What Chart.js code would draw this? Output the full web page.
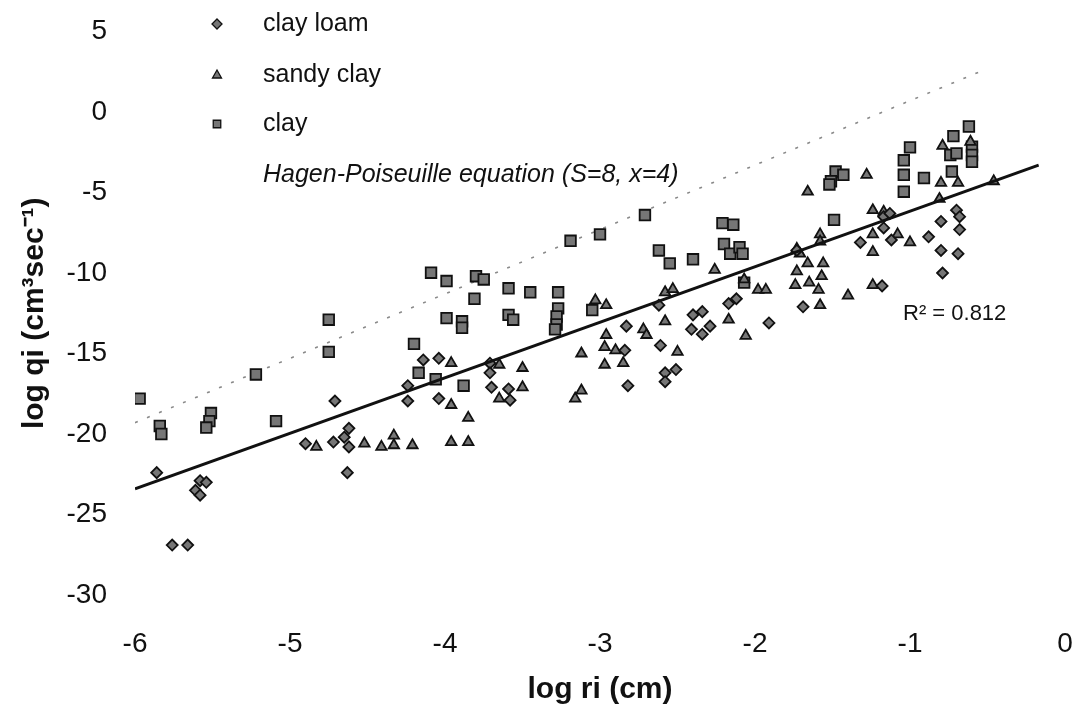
<!DOCTYPE html>
<html>
<head>
<meta charset="utf-8">
<title>log qi vs log ri</title>
<script src="https://cdn.jsdelivr.net/npm/chart.js@4.4.1/dist/chart.umd.min.js"></script>
<style>
    html, body { margin: 0; padding: 0; background: #fff; overflow: hidden; }
    #wrap { position: relative; width: 1075px; height: 719px; }
    #wrap canvas { display: block; }
</style>
</head>
<body>
<div id="wrap"><canvas id="poreFlowChart"></canvas></div>
<script>
// Axis ticks
const xTicks = [-6, -5, -4, -3, -2, -1, 0];
const yTicks = [5, 0, -5, -10, -15, -20, -25, -30];

// clay loam (diamonds)
const clayLoamX = [-5.86, -5.76, -5.66, -5.58, -5.54, -5.61, -5.58, -4.90, -4.71, -4.62, -4.72, -4.65, -4.62, -4.63,
    -4.24, -4.24, -4.14, -4.04, -4.04, -3.71, -3.71, -3.70, -3.59, -3.58, -2.84, -2.83, -2.82, -2.62, -2.61, -2.58,
    -2.58, -2.51, -2.40, -2.34, -2.41, -2.34, -2.29, -2.17, -2.12, -1.91, -1.69, -1.73, -1.32, -1.18, -1.17, -1.13,
    -1.17, -1.12, -0.88, -0.80, -0.80, -0.79, -0.70, -0.68, -0.68, -0.69];
const clayLoamY = [-22.4, -26.9, -26.9, -22.9, -23.0, -23.5, -23.8, -20.6, -17.95, -19.65, -20.5, -20.2, -20.8, -22.4,
    -17.0, -17.95, -15.4, -15.3, -17.8, -15.6, -16.2, -17.1, -17.2, -17.9, -14.8, -13.3, -17.0, -12.0, -14.5, -16.2,
    -16.75, -16.0, -12.6, -12.4, -13.5, -13.8, -13.3, -11.9, -11.6, -13.1, -12.1, -8.6, -8.1, -10.8, -6.5, -6.3,
    -7.2, -7.95, -7.75, -6.8, -8.6, -10.0, -6.1, -6.5, -7.3, -8.8];

// sandy clay (triangles)
const sandyClayX = [-4.83, -4.52, -4.41, -4.33, -4.33, -4.21, -3.96, -3.85, -3.96, -3.96, -3.85, -3.65, -3.50, -3.50,
    -3.65, -3.16, -3.12, -3.12, -3.03, -2.96, -2.96, -2.97, -2.90, -2.97, -2.85, -2.72, -2.70, -2.58, -2.53, -2.58,
    -2.50, -2.26, -2.17, -2.07, -2.06, -1.98, -1.93, -1.74, -1.73, -1.66, -1.56, -1.65, -1.57, -1.59, -1.58, -1.73,
    -1.71, -1.66, -1.58, -1.58, -1.40, -1.28, -1.24, -1.17, -1.24, -1.24, -1.24, -1.08, -1.00, -0.81, -0.80, -0.69,
    -0.79, -0.61, -0.46];
const sandyClayY = [-20.8, -20.6, -20.8, -20.1, -20.7, -20.7, -20.5, -20.5, -15.6, -18.2, -19.0, -15.7, -15.9, -17.1,
    -17.8, -17.8, -17.3, -15.0, -11.7, -12.0, -13.85, -14.6, -14.8, -15.7, -15.6, -13.5, -13.85, -11.2, -11.0, -13.0,
    -14.9, -9.8, -12.9, -10.4, -13.9, -11.05, -11.05, -10.75, -9.9, -9.4, -9.4, -10.6, -10.2, -11.05, -12.0, -8.5,
    -8.8, -4.95, -7.6, -8.05, -11.4, -3.9, -6.1, -6.2, -7.6, -8.7, -10.75, -7.6, -8.1, -5.4, -4.4, -4.4,
    -2.1, -1.85, -4.3];

// clay (squares)
const clayX = [-5.97, -5.84, -5.83, -5.51, -5.52, -5.54, -5.22, -5.09, -4.75, -4.75, -4.20, -4.17, -4.06, -4.09,
    -3.99, -3.99, -3.89, -3.89, -3.88, -3.80, -3.75, -3.81, -3.59, -3.59, -3.56, -3.45, -3.27, -3.27, -3.28, -3.28,
    -3.29, -3.19, -3.05, -3.00, -2.71, -2.62, -2.55, -2.40, -2.21, -2.14, -2.20, -2.16, -2.10, -2.08, -2.07, -1.49,
    -1.48, -1.43, -1.51, -1.52, -1.04, -1.04, -1.04, -1.00, -0.91, -0.74, -0.70, -0.73, -0.72, -0.62, -0.60, -0.60,
    -0.60];
const clayY = [-17.8, -19.5, -20.0, -18.7, -19.2, -19.6, -16.3, -19.2, -12.9, -14.9, -14.4, -16.2, -16.6, -9.98,
    -10.5, -12.8, -13.0, -13.4, -17.0, -10.2, -10.4, -11.6, -10.95, -12.6, -12.9, -11.2, -11.2, -12.2, -12.7, -13.2,
    -13.5, -8.0, -12.3, -7.6, -6.4, -8.6, -9.4, -9.15, -6.9, -7.0, -8.2, -8.8, -8.4, -8.8, -10.6, -6.7,
    -3.7, -3.9, -4.3, -4.5, -3.0, -3.9, -4.95, -2.2, -4.1, -2.67, -2.57, -3.7, -1.5, -0.9, -2.15, -2.67,
    -3.09];

// fitted regression line (end points)
const fitX = [-6.0, -0.17];
const fitY = [-23.4, -3.3];

// Hagen-Poiseuille equation line (S=8, x=4)
const hagenX = [-6.0, -0.55];
const hagenY = [-19.3, 2.5];

const r2Label = 'R\u00B2 = 0.812';

const FONT = '"Liberation Sans", Arial, sans-serif';
const MARK_FILL = '#767676';
const MARK_EDGE = '#111111';

function toPoints(xs, ys) {
    return xs.map((x, i) => ({ x: x, y: ys[i] }));
}

// Draws a small marker shape for the in-plot legend
function drawMarker(ctx, style, x, y, r) {
    ctx.beginPath();
    if (style === 'rectRot') {
        ctx.moveTo(x, y - r);
        ctx.lineTo(x + r, y);
        ctx.lineTo(x, y + r);
        ctx.lineTo(x - r, y);
    } else if (style === 'triangle') {
        ctx.moveTo(x, y - r);
        ctx.lineTo(x + r * 0.9, y + r * 0.6);
        ctx.lineTo(x - r * 0.9, y + r * 0.6);
    } else {
        ctx.rect(x - r * 0.75, y - r * 0.75, r * 1.5, r * 1.5);
    }
    ctx.closePath();
    ctx.fillStyle = MARK_FILL;
    ctx.fill();
    ctx.lineWidth = 1.3;
    ctx.strokeStyle = MARK_EDGE;
    ctx.stroke();
}

const legendRows = [
    { text: 'clay loam', style: 'rectRot', y: 24 },
    { text: 'sandy clay', style: 'triangle', y: 75 },
    { text: 'clay', style: 'rect', y: 124 },
    { text: 'Hagen-Poiseuille equation (S=8, x=4)', style: null, y: 175 }
];

const annotationPlugin = {
    id: 'legendAndR2',
    afterDraw(chart) {
        const ctx = chart.ctx;
        ctx.save();
        ctx.textBaseline = 'middle';
        ctx.textAlign = 'left';
        legendRows.forEach(row => {
            if (row.style) {
                drawMarker(ctx, row.style, 217, row.y, 5);
                ctx.font = '25px ' + FONT;
            } else {
                ctx.font = 'italic 25px ' + FONT;
            }
            ctx.fillStyle = '#111';
            ctx.fillText(row.text, 263, row.y);
        });
        ctx.font = '22px ' + FONT;
        ctx.fillStyle = '#111';
        ctx.fillText(r2Label, 903, 314);
        ctx.restore();
    }
};

const scatterStyle = {
    backgroundColor: MARK_FILL,
    borderColor: MARK_EDGE,
    borderWidth: 1.8,
    showLine: false
};

new Chart(document.getElementById('poreFlowChart'), {
    type: 'scatter',
    data: {
        datasets: [
            {
                label: 'Hagen-Poiseuille equation (S=8, x=4)',
                data: toPoints(hagenX, hagenY),
                showLine: true,
                borderColor: '#8a8a8a',
                borderWidth: 1.6,
                borderDash: [3, 10],
                pointRadius: 0,
                order: 5
            },
            Object.assign({
                label: 'clay',
                data: toPoints(clayX, clayY),
                pointStyle: 'rect',
                pointRadius: 7.5,
                order: 3
            }, scatterStyle),
            Object.assign({
                label: 'sandy clay',
                data: toPoints(sandyClayX, sandyClayY),
                pointStyle: 'triangle',
                pointRadius: 6,
                order: 2
            }, scatterStyle),
            Object.assign({
                label: 'clay loam',
                data: toPoints(clayLoamX, clayLoamY),
                pointStyle: 'rectRot',
                pointRadius: 5.5,
                order: 1
            }, scatterStyle),
            {
                label: 'fit',
                data: toPoints(fitX, fitY),
                showLine: true,
                borderColor: '#111',
                borderWidth: 3,
                pointRadius: 0,
                order: 0
            }
        ]
    },
    options: {
        responsive: true,
        maintainAspectRatio: false,
        animation: false,
        layout: { padding: { top: 31.5, right: 10, left: 0, bottom: 0 } },
        plugins: {
            legend: { display: false },
            tooltip: { enabled: false }
        },
        scales: {
            x: {
                type: 'linear',
                min: Math.min(...xTicks),
                max: Math.max(...xTicks),
                afterBuildTicks: scale => { scale.ticks = xTicks.map(v => ({ value: v })); },
                afterFit: scale => { scale.height = 124; },
                grid: { display: false, drawTicks: true, tickLength: 30 },
                border: { display: false },
                ticks: { color: '#111', padding: 2, font: { family: FONT, size: 28 } },
                title: {
                    display: true,
                    text: 'log ri (cm)',
                    color: '#111',
                    font: { family: FONT, size: 30, weight: 'bold' },
                    padding: { top: 0, bottom: 11 }
                }
            },
            y: {
                type: 'linear',
                min: Math.min(...yTicks),
                max: Math.max(...yTicks),
                afterBuildTicks: scale => { scale.ticks = yTicks.map(v => ({ value: v })); },
                afterFit: scale => { scale.width = 135; },
                grid: { display: false, drawTicks: true, tickLength: 26 },
                border: { display: false },
                ticks: { color: '#111', padding: 2, font: { family: FONT, size: 28 } },
                title: {
                    display: true,
                    text: 'log qi (cm\u00B3sec\u207B\u00B9)',
                    color: '#111',
                    font: { family: FONT, size: 30, weight: 'bold' },
                    padding: { top: 17, bottom: 0 }
                }
            }
        }
    },
    plugins: [annotationPlugin]
});
</script>
</body>
</html>
